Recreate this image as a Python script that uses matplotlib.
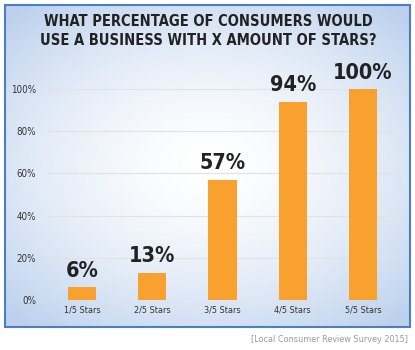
import numpy as np
import matplotlib.pyplot as plt
from matplotlib.patches import Rectangle

categories = ['1/5 Stars', '2/5 Stars', '3/5 Stars', '4/5 Stars', '5/5 Stars']
values = [6, 13, 57, 94, 100]
yticks = [0, 20, 40, 60, 80, 100]
title = 'WHAT PERCENTAGE OF CONSUMERS WOULD\nUSE A BUSINESS WITH X AMOUNT OF STARS?'
source = '[Local Consumer Review Survey 2015]'

W, H = 415, 350
fig = plt.figure(figsize=(W / 100, H / 100), dpi=100)
fig.patch.set_facecolor('white')

fam = 'DejaVu Sans'
cond = dict(family=fam, fontstretch='condensed')

# panel background: radial gradient, white centre to pale blue edges
bx0, by0, bx1, by1 = 5, 5, 410, 327
bg = fig.add_axes([bx0 / W, 1 - by1 / H, (bx1 - bx0) / W, (by1 - by0) / H])
yy, xx = np.mgrid[-1:1:200j, -1:1:240j]
r = np.clip(np.sqrt((xx * 0.95) ** 2 + (yy * 1.05) ** 2) / 1.35, 0, 1)
c0 = np.array([1.0, 1.0, 1.0])
c1 = np.array([0.74, 0.82, 0.93])
img = c0 + (c1 - c0) * (r[..., None] ** 1.6)
bg.imshow(img, aspect='auto', extent=(0, 1, 0, 1))
bg.set_axis_off()
fig.patches.append(Rectangle((bx0 / W, 1 - by1 / H), (bx1 - bx0) / W, (by1 - by0) / H,
                             transform=fig.transFigure, fill=False,
                             edgecolor='#4a7fc1', linewidth=1.5, zorder=10))

# plot area
ax0, ax1, ay0, ay1 = 47, 398, 300, 89
ax = fig.add_axes([ax0 / W, 1 - ay0 / H, (ax1 - ax0) / W, (ay0 - ay1) / H])
ax.patch.set_alpha(0)
x = np.arange(len(categories))
ax.bar(x, values, width=0.4, color='#f9a12e', zorder=3)
for xi, v in zip(x, values):
    ax.text(xi, v + 3, f'{v}%', ha='center', va='bottom', fontsize=15.5,
            fontweight='bold', color='#222222', clip_on=False, **cond)
ax.set_xlim(-0.5, len(categories) - 0.5)
ax.set_ylim(0, 100)
ax.set_yticks(yticks)
ax.set_yticklabels([f'{t}%' for t in yticks], fontsize=7, color='#333333', **cond)
ax.set_xticks(x)
ax.set_xticklabels(categories, fontsize=6.5, color='#333333', **cond)
ax.tick_params(length=0, pad=8)
ax.tick_params(axis='x', pad=4)
ax.grid(axis='y', color='#e2e2e2', linewidth=0.8, zorder=0)
for s in ax.spines.values():
    s.set_visible(False)

fig.text(208 / W, 1 - 31 / H, title, ha='center', va='center', fontsize=10.5,
         fontweight='bold', color='#222222', linespacing=1.3, **cond)
fig.text(408 / W, 1 - 339 / H, source, ha='right', va='center', fontsize=6.5,
         color='#999999', **cond)

fig.savefig('out.png', dpi=100)
